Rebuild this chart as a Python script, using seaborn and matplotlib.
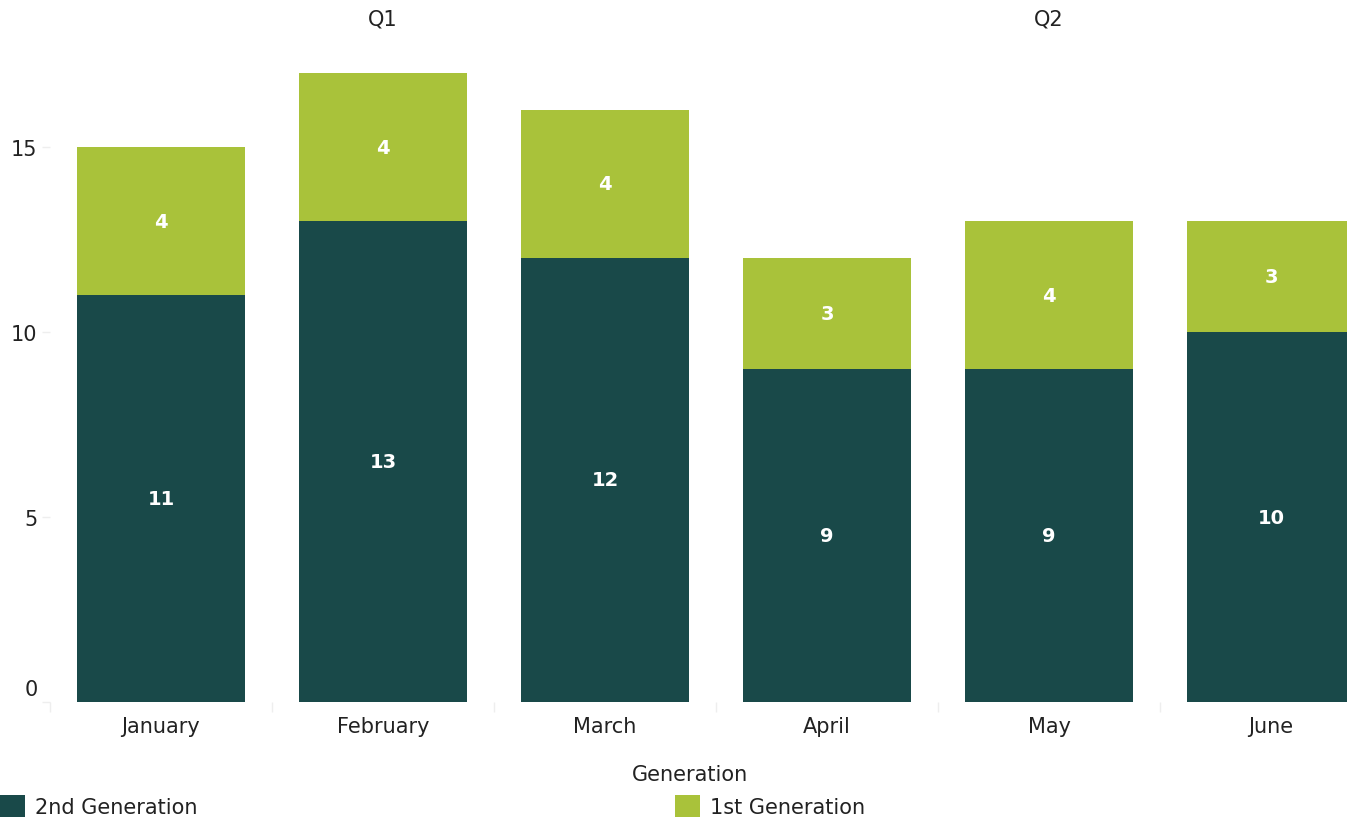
import matplotlib
matplotlib.use("Agg")
import matplotlib.pyplot as plt
import matplotlib.transforms as mtransforms
from matplotlib.patches import Patch
import seaborn as sns
import pandas as pd
import numpy as np

months = ["January", "February", "March", "April", "May", "June"]
second_gen = [11, 13, 12, 9, 9, 10]
first_gen = [4, 4, 4, 3, 4, 3]
quarters = ["Q1", "Q2"]
series_names = ["2nd Generation", "1st Generation"]
legend_title = "Generation"

dark = "#194949"
green = "#A9C23A"
txt = "#222222"

sns.set_theme(style="white")
plt.rcParams["font.family"] = ["DejaVu Sans"]

df = pd.DataFrame({"month": months, "second": second_gen, "first": first_gen})
df["total"] = df["second"] + df["first"]

W, H = 1347, 820
fig = plt.figure(figsize=(W / 100, H / 100), dpi=100)
ax = fig.add_axes([50 / W, (H - 703) / H, (W - 50) / W, 703 / H])

sns.barplot(data=df, x="month", y="total", color=green, width=0.757,
            saturation=1, ax=ax, order=months, linewidth=0, edgecolor="none")
sns.barplot(data=df, x="month", y="second", color=dark, width=0.757,
            saturation=1, ax=ax, order=months, linewidth=0, edgecolor="none")

# value labels
bars_second = ax.containers[1]
for i, bs in enumerate(bars_second):
    xc = bs.get_x() + bs.get_width() / 2
    ax.text(xc, second_gen[i] / 2, str(second_gen[i]), color="white",
            fontsize=14, fontweight="bold", ha="center", va="center")
    ax.text(xc, second_gen[i] + first_gen[i] / 2, str(first_gen[i]), color="white",
            fontsize=14, fontweight="bold", ha="center", va="center")

ax.set_xlabel("")
ax.set_ylabel("")
for s in ax.spines.values():
    s.set_visible(False)

ax.set_yticks([0, 5, 10, 15])
ax.tick_params(axis="y", which="major", left=True, length=6, width=1,
               color="#eeeeee", labelsize=15, pad=3, labelcolor=txt)
ax.tick_params(axis="x", which="major", bottom=False, length=0, labelsize=15,
               pad=10, labelcolor=txt)
ax.set_xticks(np.arange(-0.5, 5, 1), minor=True)
ax.tick_params(axis="x", which="minor", bottom=True, length=7, width=1,
               color="#eeeeee")

xmax = -0.5 + (W - 50) / 222
ax.set_xlim(-0.5, xmax)
ax.set_ylim(0, 19)

# shift the "0" label up
lbl0 = ax.get_yticklabels()[0]
lbl0.set_transform(lbl0.get_transform() + mtransforms.ScaledTranslation(0, 15 / 100, fig.dpi_scale_trans))

# quarter labels
qtrans = ax.get_xaxis_transform() + mtransforms.ScaledTranslation(0, -9 / 100, fig.dpi_scale_trans)
for qi, q in enumerate(quarters):
    ax.text(qi * 3 + 1, 1.0, q, transform=qtrans,
            ha="center", va="top", fontsize=15, color=txt)

fig.text(690 / W, 1 - 775 / H, legend_title, ha="center", va="center",
         fontsize=15, color=txt)
handles = [Patch(facecolor=dark, edgecolor="none"), Patch(facecolor=green, edgecolor="none")]
for h, name, x0 in zip(handles, series_names, [0, 675]):
    fig.legend([h], [name], loc="lower left", bbox_to_anchor=(x0 / W, 2 / H),
               frameon=False, fontsize=15, handlelength=1.2, handleheight=1.25,
               handletextpad=0.48, borderpad=0, borderaxespad=0,
               labelcolor=txt)

fig.savefig("out.png", dpi=100)
